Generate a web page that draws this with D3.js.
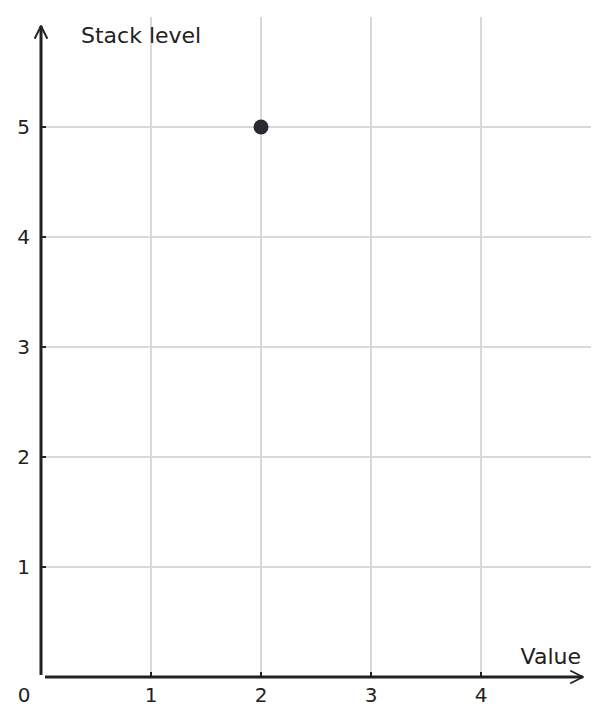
<!DOCTYPE html>
<html>
<head>
<meta charset="utf-8">
<script src="https://cdn.jsdelivr.net/npm/d3@7"></script>
<style>
  body { margin: 0; background: #fff; }
  text { font-family: "DejaVu Sans", sans-serif; fill: #222; }
</style>
</head>
<body>
<div id="chart"></div>
<script>
// Données
const xTicks = [1, 2, 3, 4];
const yTicks = [1, 2, 3, 4, 5];
const pointsX = [2];
const pointsY = [5];
const xTitle = "Value";
const yTitle = "Stack level";

const width = 608;
const height = 725;

const svg = d3.select("#chart").append("svg")
    .attr("width", width)
    .attr("height", height);

// Échelles
const x = d3.scaleLinear().domain([0, 5]).range([41, 591]);
const y = d3.scaleLinear().domain([0, 6]).range([677, 17]);

// Grille
svg.append("g").selectAll("line")
    .data(xTicks)
    .join("line")
    .attr("x1", d => x(d)).attr("x2", d => x(d))
    .attr("y1", y(6)).attr("y2", y(0))
    .attr("stroke", "#d9d9d9")
    .attr("stroke-width", 2);

svg.append("g").selectAll("line")
    .data(yTicks)
    .join("line")
    .attr("x1", x(0)).attr("x2", x(5))
    .attr("y1", d => y(d)).attr("y2", d => y(d))
    .attr("stroke", "#d9d9d9")
    .attr("stroke-width", 2);

// Flèches
const defs = svg.append("defs");
defs.append("marker")
    .attr("id", "arrow")
    .attr("viewBox", "0 0 10 10")
    .attr("refX", 9).attr("refY", 5)
    .attr("markerWidth", 5).attr("markerHeight", 5)
    .attr("markerUnits", "strokeWidth")
    .attr("orient", "auto")
    .append("path")
    .attr("d", "M1,1 L9,5 L1,9")
    .attr("fill", "none")
    .attr("stroke", "#222")
    .attr("stroke-width", 1.3)
    .attr("stroke-linecap", "round")
    .attr("stroke-linejoin", "round");

// Axe Y
svg.append("line")
    .attr("x1", x(0)).attr("x2", x(0))
    .attr("y1", y(0) - 2).attr("y2", 26)
    .attr("stroke", "#222")
    .attr("stroke-width", 3)
    .attr("marker-end", "url(#arrow)");

// Axe X
svg.append("line")
    .attr("x1", x(0) + 4).attr("x2", 583)
    .attr("y1", y(0)).attr("y2", y(0))
    .attr("stroke", "#222")
    .attr("stroke-width", 3)
    .attr("marker-end", "url(#arrow)");

// Graduations
svg.append("g").selectAll("line")
    .data(xTicks)
    .join("line")
    .attr("x1", d => x(d)).attr("x2", d => x(d))
    .attr("y1", y(0) - 5).attr("y2", y(0))
    .attr("stroke", "#222")
    .attr("stroke-width", 2);

svg.append("g").selectAll("line")
    .data(yTicks)
    .join("line")
    .attr("x1", x(0)).attr("x2", x(0) + 5)
    .attr("y1", d => y(d)).attr("y2", d => y(d))
    .attr("stroke", "#222")
    .attr("stroke-width", 2);

// Étiquettes
svg.append("g").selectAll("text")
    .data([0].concat(xTicks))
    .join("text")
    .attr("x", d => d === 0 ? 24 : x(d))
    .attr("y", 702)
    .attr("text-anchor", "middle")
    .attr("font-size", "20px")
    .text(d => d);

svg.append("g").selectAll("text")
    .data(yTicks)
    .join("text")
    .attr("x", 30)
    .attr("y", d => y(d) + 7)
    .attr("text-anchor", "end")
    .attr("font-size", "20px")
    .text(d => d);

svg.append("text")
    .attr("x", 81).attr("y", 43)
    .attr("font-size", "22px")
    .text(yTitle);

svg.append("text")
    .attr("x", 581).attr("y", 664)
    .attr("text-anchor", "end")
    .attr("font-size", "22px")
    .text(xTitle);

// Point
svg.append("g").selectAll("circle")
    .data(pointsX.map((v, i) => ({ x: v, y: pointsY[i] })))
    .join("circle")
    .attr("cx", d => x(d.x))
    .attr("cy", d => y(d.y))
    .attr("r", 7.5)
    .attr("fill", "#2a2a30");
</script>
</body>
</html>
